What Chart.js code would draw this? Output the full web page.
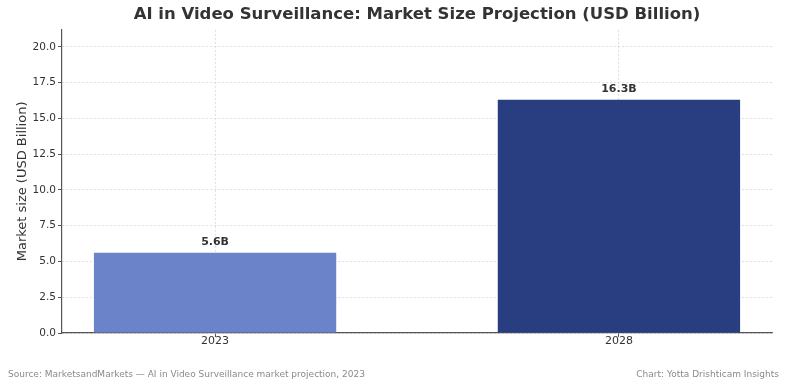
<!DOCTYPE html>
<html>
<head>
<meta charset="utf-8">
<script src="https://cdn.jsdelivr.net/npm/chart.js@4.4.0/dist/chart.umd.min.js"></script>
<style>
  html, body { margin: 0; padding: 0; background: #ffffff; }
  #wrap { position: relative; width: 787px; height: 387px; }
  canvas { position: absolute; left: 0; top: 0; }
  .foot { position: absolute; top: 369px; font-family: "DejaVu Sans", sans-serif; font-size: 9px; color: #8a8a8a; white-space: nowrap; }
</style>
</head>
<body>
<div id="wrap">
  <canvas id="c" width="787" height="387"></canvas>
  <div class="foot" style="left:8px;">Source: MarketsandMarkets — AI in Video Surveillance market projection, 2023</div>
  <div class="foot" style="right:8px;">Chart: Yotta Drishticam Insights</div>
</div>
<script>
const categories = ["2023", "2028"];
const values = [5.6, 16.3];
const valueLabels = ["5.6B", "16.3B"];
const barColors = ["#6b83c9", "#283e80"];
const yTicks = [0, 2.5, 5, 7.5, 10, 12.5, 15, 17.5, 20];

const points = values.map((v, i) => ({ x: i, y: v }));

const labelPlugin = {
  id: 'barLabels',
  afterDatasetsDraw(chart) {
    const ctx = chart.ctx;
    const meta = chart.getDatasetMeta(0);
    ctx.save();
    ctx.font = 'bold 11px "DejaVu Sans", sans-serif';
    ctx.fillStyle = '#333333';
    ctx.textAlign = 'center';
    ctx.textBaseline = 'middle';
    meta.data.forEach((bar, i) => {
      ctx.fillText(valueLabels[i], bar.x, bar.y - 11);
    });
    ctx.restore();
  }
};

new Chart(document.getElementById('c'), {
  type: 'bar',
  data: {
    datasets: [{
      data: points,
      backgroundColor: barColors,
      borderWidth: 0,
      barPercentage: 0.6,
      categoryPercentage: 1.0
    }]
  },
  options: {
    responsive: false,
    animation: false,
    layout: { padding: { left: 0, right: 15, top: 0, bottom: 34 } },
    plugins: {
      legend: { display: false },
      tooltip: { enabled: false },
      title: {
        display: true,
        fullSize: false,
        text: 'AI in Video Surveillance: Market Size Projection (USD Billion)',
        color: '#333333',
        font: { family: '"DejaVu Sans", sans-serif', size: 16.5, weight: 'bold' },
        padding: { top: 5, bottom: 5 }
      }
    },
    scales: {
      x: {
        type: 'linear',
        offset: false,
        min: -0.379,
        max: 1.379,
        afterBuildTicks: (scale) => { scale.ticks = categories.map((c, i) => ({ value: i })); },
        afterFit: (scale) => { scale.height = 20; },
        ticks: {
          callback: (v) => categories[v] !== undefined ? categories[v] : '',
          color: '#333333',
          font: { family: '"DejaVu Sans", sans-serif', size: 11 },
          padding: -2,
          maxRotation: 0
        },
        grid: {
          offset: false,
          color: '#d6d6d6',
          lineWidth: 0.8,
          tickColor: '#555555',
          tickLength: 4,
          tickWidth: 1
        },
        border: { display: true, color: '#555555', width: 1.2, dash: [2, 2] }
      },
      y: {
        min: 0,
        max: 21.19,
        afterBuildTicks: (scale) => { scale.ticks = yTicks.map(v => ({ value: v })); },
        afterFit: (scale) => { scale.width = 62; },
        ticks: {
          callback: (v) => Number(v).toFixed(1),
          color: '#333333',
          font: { family: '"DejaVu Sans", sans-serif', size: 10.5 },
          padding: 2
        },
        title: {
          display: true,
          text: 'Market size (USD Billion)',
          color: '#333333',
          font: { family: '"DejaVu Sans", sans-serif', size: 13 },
          padding: { top: 15, bottom: 0 }
        },
        grid: {
          color: '#d6d6d6',
          lineWidth: 0.8,
          tickColor: '#555555',
          tickLength: 4,
          tickWidth: 1
        },
        border: { display: true, color: '#555555', width: 1.2, dash: [2, 2] }
      }
    }
  },
  plugins: [labelPlugin]
});
</script>
</body>
</html>
